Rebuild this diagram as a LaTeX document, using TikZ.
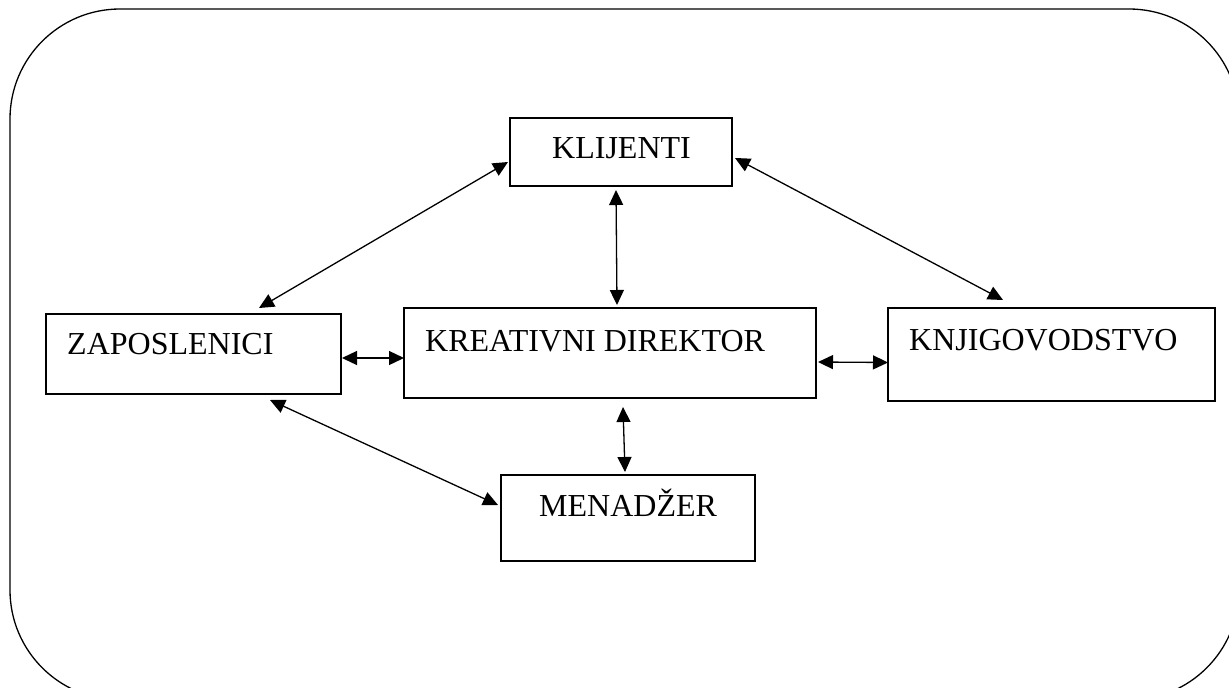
\documentclass[tikz,border=0pt]{standalone}
\usepackage{fontspec}
\setmainfont{Liberation Serif}
\usetikzlibrary{arrows.meta,calc}
\begin{document}
\begin{tikzpicture}[x=1pt,y=-1pt,
  box/.style={draw,line width=1.2pt,inner sep=0pt,outer sep=0pt},
  lbl/.style={anchor=base west,inner sep=0pt,font=\fontsize{32}{38}\selectfont},
  link/.style={line width=1.3pt,{Triangle[length=15pt,width=14pt]}-{Triangle[length=15pt,width=14pt]}}]
\useasboundingbox (0,0) rectangle (1229,688);
\clip (0,0) rectangle (1229,688);
\draw[line width=1.3pt,rounded corners=110pt] (10,9) rectangle (1239,700);
\node[box,minimum width=222pt,minimum height=68pt] (kl) at (621,152) {};
\node[box,minimum width=295pt,minimum height=80pt] (zap) at (193.5,354) {};
\node[box,minimum width=412pt,minimum height=90pt] (kd) at (610,353) {};
\node[box,minimum width=327pt,minimum height=93pt] (knj) at (1051.5,354.5) {};
\node[box,minimum width=254pt,minimum height=86pt] (men) at (628,518) {};
\node[lbl] (tkl) at (552,158) {KLIJENTI};
\node[lbl] (tzap) at (67,354) {ZAPOSLENICI};
\node[lbl] (tkd) at (425,351) {KREATIVNI DIREKTOR};
\node[lbl] (tknj) at (909,350) {KNJIGOVODSTVO};
\node[lbl] (tmen) at (539,516) {MENADŽER};
\draw[link] ($(kl.west)+(-2,10)$) -- ($(zap.north east)+(-82,-6)$);
\draw[link] ($(kl.south)+(-5,4)$) -- ($(kd.north)+(7,-3)$);
\draw[link] ($(kl.east)+(3,6)$) -- ($(knj.north west)+(115,-8)$);
\draw[link] ($(zap.east)+(1,4)$) -- ($(kd.west)+(0,5)$);
\draw[link] ($(kd.east)+(2,9)$) -- ($(knj.west)+(0,8)$);
\draw[link] ($(kd.south)+(13,9)$) -- ($(men.north)+(-3,-3)$);
\draw[link] ($(zap.south east)+(-71,6)$) -- ($(men.west)+(-3,-13)$);
\end{tikzpicture}
\end{document}
